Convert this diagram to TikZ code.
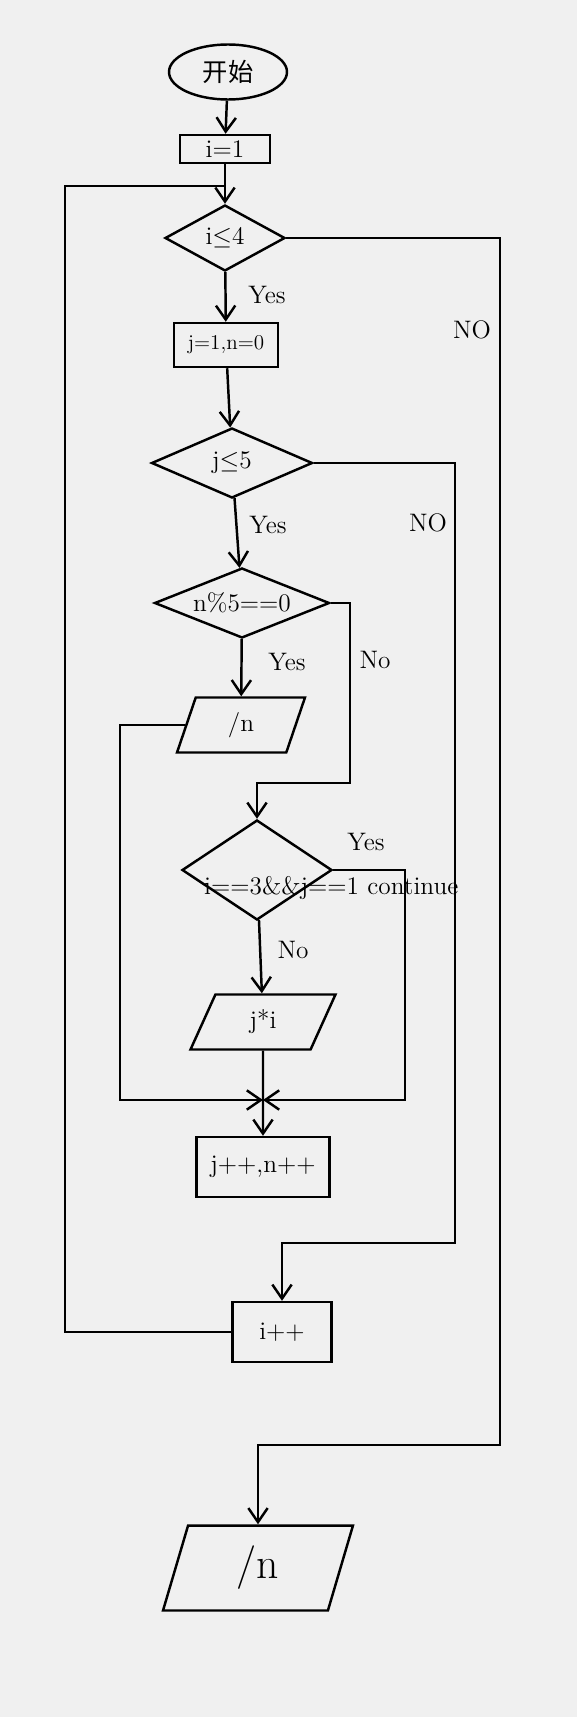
\documentclass[tikz,border=0pt]{standalone}
\usepackage{fontspec}
\newfontfamily\cjk{Noto Sans CJK SC}
\usepackage{tikz}
\usetikzlibrary{arrows.meta,shapes.geometric}

\begin{document}
\begin{tikzpicture}[x=0.02cm, y=-0.02cm, line width=1.4pt,
    every node/.style={font=\Large},
    proc/.style={draw, rectangle, inner sep=1pt},
    decide/.style={draw, diamond, inner sep=0pt},
    io/.style={draw, trapezium, trapezium left angle=60, trapezium right angle=120, trapezium stretches body, inner sep=1pt},
    arr/.style={-{Straight Barb[length=8pt,width=11pt]}}]
    \fill[black!6] (0,0) rectangle (577,1717);
    \useasboundingbox (0,0) rectangle (577,1717);
    % main column
    \node[draw, ellipse, minimum width=2.36cm, minimum height=1.1cm] (start) at (228,72) {\cjk 开始};
    \node[proc, minimum width=1.8cm, minimum height=0.56cm] (init) at (225,149) {i=1};
    \node[decide, shape aspect=1.8, minimum width=2.4cm, minimum height=1.32cm] (c1) at (225,238) {i$\leq$4};
    \node[proc, minimum width=2.08cm, minimum height=0.88cm, font=\large] (init2) at (226,345) {j=1,n=0};
    \node[decide, shape aspect=2.3, minimum width=3.22cm, minimum height=1.4cm] (c2) at (232,463) {j$\leq$5};
    \node[decide, shape aspect=2.5, minimum width=3.5cm, minimum height=1.4cm] (c3) at (242,603) {n\%5==0};
    \node[io, trapezium left angle=57, trapezium right angle=123, minimum width=2.56cm, minimum height=1.1cm] (out1) at (241,725) {/n};
    \node[decide, shape aspect=1.5, minimum width=3cm, minimum height=2cm] (c4) at (257,870) {};
    \node[anchor=west, inner sep=0pt] (c4txt) at (203,888) {i==3\&\&j==1 continue};
    \node[io, trapezium left angle=48, trapezium right angle=132, minimum width=2.9cm, minimum height=1.1cm] (out2) at (263,1022) {j*i};
    \node[proc, minimum width=2.66cm, minimum height=1.2cm] (incr) at (263,1167) {j++,n++};
    \node[proc, minimum width=1.98cm, minimum height=1.2cm] (inci) at (282,1332) {i++};
    \node[io, trapezium left angle=62, trapezium right angle=118, minimum width=3.8cm, minimum height=1.7cm, font=\Huge] (out3) at (258,1568) {/n};
    % bends
    \coordinate (j1) at (225,186);
    \coordinate (l1) at (65,186);
    \coordinate (r1) at (500,1445);
    \coordinate (r2) at (455,1243);
    \coordinate (r3) at (350,783);
    \coordinate (r4) at (405,1100);
    \coordinate (l2) at (120,1100);
    \coordinate (j2) at (263,1100);
    % connectors
    \draw[arr] (start) -- (init);
    \draw[arr] (init) -- (c1);
    \draw (inci.west) -| (l1) -- (j1);
    \draw[arr] (c1) -- (init2);
    \draw[arr] (c1.east) -| (r1) -| (out3.north);
    \draw[arr] (init2) -- (c2);
    \draw[arr] (c2.east) -| (r2) -| (inci.north);
    \draw[arr] (c2) -- (c3);
    \draw[arr] (c3.east) -| (r3) -| (c4.north);
    \draw[arr] (c3) -- (out1);
    \draw[arr] (out1.west) -| (l2) -- (j2);
    \draw[arr] (c4) -- (out2);
    \draw[arr] (c4.east) -| (r4) -- (j2);
    \draw[arr] (out2) -- (incr);
    % labels
    \node (yes1) at (267,295) {Yes};
    \node (no1) at (472,330) {NO};
    \node (yes2) at (268,525) {Yes};
    \node (no2) at (428,523) {NO};
    \node (yes3) at (287,662) {Yes};
    \node (no3) at (375,660) {No};
    \node (yes4) at (366,842) {Yes};
    \node (no4) at (293,950) {No};
\end{tikzpicture}
\end{document}
